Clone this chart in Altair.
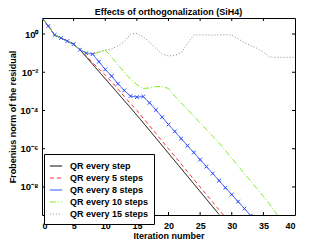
import altair as alt
import pandas as pd

# ---- data (log10 of Frobenius norm of residual) ----
series_names = ["QR every step", "QR every 5 steps", "QR every 8 steps",
                "QR every 10 steps", "QR every 15 steps"]

black_log10 = [0.84, 0.42, -0.05, -0.21, -0.37, -0.53, -0.82, -1.2, -1.58, -1.96,
               -2.34, -2.72, -3.1, -3.48, -3.86, -4.25, -4.64, -5.04, -5.44, -5.84,
               -6.24, -6.64, -7.04, -7.44, -7.84, -8.24, -8.64, -9.04, -9.44]
red_log10 = [0.84, 0.42, -0.05, -0.21, -0.37, -0.53, -0.82, -1.15, -1.5, -1.82,
             -2.15, -2.5, -2.88, -3.26, -3.64, -4.0, -4.4, -4.8, -5.2, -5.6,
             -6.0, -6.4, -6.8, -7.2, -7.6, -8.0, -8.4, -8.8, -9.2, -9.6]
blue_log10 = [0.84, 0.42, -0.05, -0.21, -0.37, -0.53, -0.82, -1.0, -1.05, -1.45,
              -1.85, -2.2, -2.6, -2.95, -3.25, -3.3, -3.27, -3.6, -3.97, -4.35,
              -4.73, -5.1, -5.47, -5.84, -6.2, -6.57, -6.94, -7.3, -7.67, -8.04,
              -8.4, -8.77, -9.13, -9.5]
green_log10 = [0.84, 0.42, -0.05, -0.21, -0.37, -0.53, -0.82, -1.0, -1.05, -0.95,
               -0.84, -1.2, -1.6, -2.0, -2.35, -2.65, -2.85, -2.82, -2.75, -2.75,
               -2.85, -3.25, -3.6, -3.95, -4.3, -4.65, -5.0, -5.35, -5.7, -6.1,
               -6.5, -6.9, -7.3, -7.7, -8.1, -8.5, -8.9, -9.38, -9.78]
gray_log10 = [0.84, 0.42, -0.05, -0.21, -0.37, -0.53, -0.82, -1.0, -1.05, -0.95,
              -0.84, -0.78, -0.62, -0.4, 0.0, 0.03, -0.15, -0.42, -0.75, -1.05,
              -1.15, -1.12, -0.98, -0.5, -0.05, -0.04, -0.05, -0.06, -0.04, -0.03,
              -0.06, -0.25, -0.45, -0.6, -0.75, -0.95, -1.2, -1.22, -1.22, -1.22,
              -1.22]

series_colors = ["#000000", "#ff3030", "#2a4cff", "#80ee20", "#8c8c8c"]
series_dashes = [[1, 0], [4, 3], [1, 0], [6, 2, 1, 2], [1, 2]]

x_ticks = [0, 5, 10, 15, 20, 25, 30, 35, 40]
y_ticks = [1e0, 1e-2, 1e-4, 1e-6, 1e-8]

rows = []
for name, vals in zip(series_names,
                      [black_log10, red_log10, blue_log10, green_log10, gray_log10]):
    for i, v in enumerate(vals):
        rows.append({"series": name, "iteration": i, "residual": 10 ** v})
df = pd.DataFrame(rows)
df_blue = df[df["series"] == "QR every 8 steps"]
xt = pd.DataFrame({"iteration": x_ticks[1:-1]})
yt = pd.DataFrame({"residual": y_ticks})

W, H = 253, 197
FONT = "Liberation Sans"

xscale = alt.Scale(domain=[0, 40], nice=False)
yscale = alt.Scale(type="log", domain=[3.4e-10, 6.9], nice=False)

label_expr = ("datum.value >= 0.5 ? '10⁰' : datum.value >= 0.005 ? '10⁻²' : "
              "datum.value >= 0.00005 ? '10⁻⁴' : datum.value >= 0.0000005 ? '10⁻⁶' : '10⁻⁸'")

xaxis = alt.Axis(values=x_ticks, title="Iteration number", tickSize=0,
                 domain=False, grid=False, labelPadding=6, titlePadding=1,
                 labelOverlap=False)
yaxis = alt.Axis(values=y_ticks, title="Frobenius norm of the residual",
                 tickSize=0, domain=False, grid=False, labelPadding=4,
                 titlePadding=2, labelExpr=label_expr, labelOverlap=False,
                 labelFontSize=9.5)


def X():
    return alt.X("iteration:Q", scale=xscale, axis=xaxis)


def Y():
    return alt.Y("residual:Q", scale=yscale, axis=yaxis)


lines = alt.Chart(df).mark_line(strokeWidth=1, clip=True).encode(
    x=X(), y=Y(),
    color=alt.Color("series:N", scale=alt.Scale(domain=series_names, range=series_colors),
                    legend=alt.Legend(title=None)),
    strokeDash=alt.StrokeDash("series:N",
                              scale=alt.Scale(domain=series_names, range=series_dashes),
                              legend=alt.Legend(title=None)),
    order="iteration:Q",
)

markers = alt.Chart(df_blue).mark_point(
    shape="M-1,-1L1,1M1,-1L-1,1", size=14, strokeWidth=1, filled=False,
    color="#2a4cff", clip=True, opacity=1
).encode(x=X(), y=Y())

tick_len = 3
xt_bottom = alt.Chart(xt).mark_rule(color="black", strokeWidth=1).encode(
    x=X(), y=alt.value(H), y2=alt.value(H - tick_len))
xt_top = alt.Chart(xt).mark_rule(color="black", strokeWidth=1).encode(
    x=X(), y=alt.value(0), y2=alt.value(tick_len))
yt_left = alt.Chart(yt).mark_rule(color="black", strokeWidth=1).encode(
    y=Y(), x=alt.value(0), x2=alt.value(tick_len))
yt_right = alt.Chart(yt).mark_rule(color="black", strokeWidth=1).encode(
    y=Y(), x=alt.value(W - tick_len), x2=alt.value(W))

chart = alt.layer(lines, markers, xt_bottom, xt_top, yt_left, yt_right).properties(
    width=W, height=H,
    title=alt.Title("Effects of orthogonalization (SiH4)", fontSize=9, fontWeight="bold",
                    font=FONT, offset=1, color="black"),
    autosize=alt.AutoSizeParams(type="none"),
    padding={"left": 34, "top": 10, "right": 24, "bottom": 30},
).configure_view(
    stroke="black", strokeWidth=1
).configure_axis(
    labelFont=FONT, titleFont=FONT, labelFontSize=9, titleFontSize=9,
    labelFontWeight="bold", titleFontWeight="bold", labelColor="black",
    titleColor="black",
).configure_legend(
    orient="none", legendX=2, legendY=136, padding=5, strokeColor="black",
    fillColor="white", symbolType="stroke", symbolSize=150, symbolStrokeWidth=1,
    labelFont=FONT, labelFontSize=9, labelFontWeight="bold", labelColor="black",
    rowPadding=-1.5, labelOffset=7, cornerRadius=0, strokeWidth=1,
)

chart.save("out.html", embed_options={"renderer": "svg", "actions": False})
